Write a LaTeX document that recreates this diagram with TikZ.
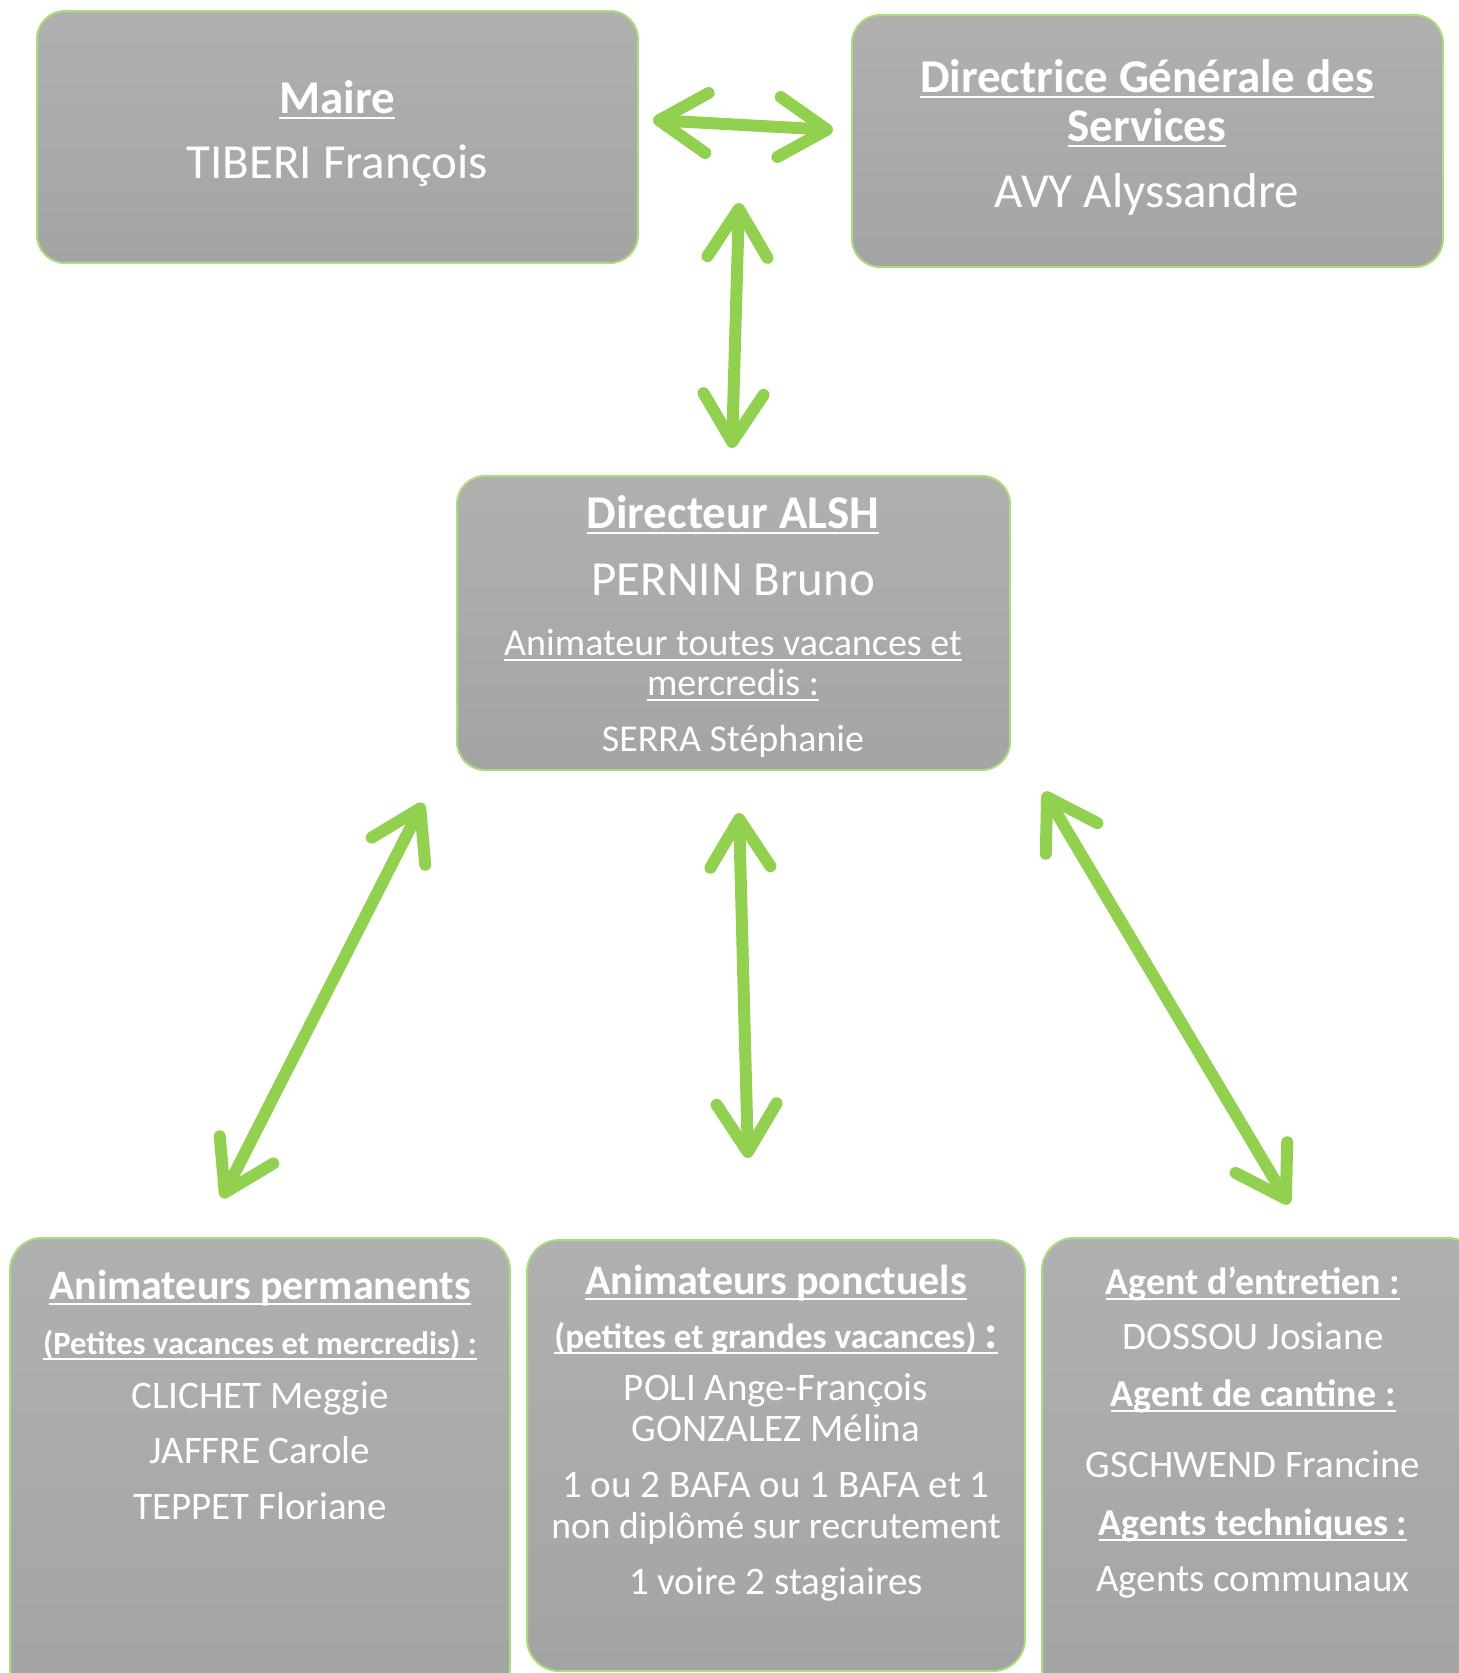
\documentclass[tikz,border=0pt]{standalone}
\usepackage{fontspec}
\setmainfont{Carlito}
\usetikzlibrary{arrows.meta}

\definecolor{linkgreen}{HTML}{92D050}
\definecolor{cardtop}{HTML}{B0B0B0}
\definecolor{cardbottom}{HTML}{A4A4A4}

\newsavebox{\ulbox}
\newcommand{\ulab}[1]{\sbox{\ulbox}{#1}\rlap{\rule[-2.6pt]{\wd\ulbox}{1.2pt}}\usebox{\ulbox}}

\tikzset{
  card/.style={rounded corners=14pt, draw=linkgreen!75!white, line width=1pt,
    top color=cardtop, bottom color=cardbottom},
  link/.style={draw=linkgreen, line width=6pt,
    {Straight Barb[length=24pt,width=30pt,round]}-{Straight Barb[length=24pt,width=30pt,round]}},
  txt/.style={text=white, anchor=mid, inner sep=0pt, yshift=-5.5pt},
  bigperson/.style={txt, font=\fontsize{24.5}{28}\selectfont},
  person/.style={txt, font=\fontsize{19.5}{23}\selectfont},
  toptitle/.style={txt, font=\fontsize{23.5}{28}\selectfont\bfseries},
  cardtitle/.style={txt, font=\fontsize{21}{25}\selectfont\bfseries},
  subtitle/.style={txt, font=\fontsize{16.3}{19}\selectfont\bfseries},
  role/.style={txt, font=\fontsize{19}{23}\selectfont\bfseries}
}

\begin{document}
\begin{tikzpicture}[x=0.5pt, y=-0.5pt]
  \useasboundingbox (0,0) rectangle (1459,1673);

  % ====== BOXES ======
  \node[card, minimum width=300.5pt, minimum height=126pt] (maire) at (337.5,137) {};
  \node[card, minimum width=295.5pt, minimum height=126pt] (dgs) at (1147.5,141) {};
  \node[card, minimum width=276.5pt, minimum height=147pt] (alsh) at (733.5,623) {};
  \node[card, rounded corners=16pt, minimum width=250pt, minimum height=231pt] (perm) at (260,1469) {};
  \node[card, rounded corners=16pt, minimum width=249pt, minimum height=215.5pt] (ponct) at (776,1455.5) {};
  \node[card, rounded corners=16pt, minimum width=219pt, minimum height=231pt] (agents) at (1261,1469) {};

  % ====== TEXTS ======
  % Maire
  \node[toptitle] (maire-t) at (337,98) {\ulab{Maire}};
  \node[bigperson] (maire-n) at (337,163) {TIBERI François};

  % Directrice
  \node[toptitle] (dgs-t1) at (1147,77) {\ulab{Directrice Générale des}};
  \node[toptitle] (dgs-t2) at (1147,126) {\ulab{Services}};
  \node[bigperson] (dgs-n) at (1147,192) {AVY Alyssandre};

  % Directeur ALSH
  \node[toptitle] (alsh-t) at (733,513) {\ulab{Directeur ALSH}};
  \node[bigperson] (alsh-n) at (733,580) {PERNIN Bruno};
  \node[person, font=\fontsize{19}{23}\selectfont] (alsh-r1) at (733,640) {\ulab{Animateur toutes vacances et}};
  \node[person, font=\fontsize{19}{23}\selectfont] (alsh-r2) at (733,680) {\ulab{mercredis :}};
  \node[person, font=\fontsize{19}{23}\selectfont] (alsh-a) at (733,736) {SERRA Stéphanie};

  % Animateurs permanents
  \node[cardtitle] (perm-t) at (260,1284) {\ulab{Animateurs permanents}};
  \node[subtitle] (perm-s) at (260,1339) {\ulab{(Petites vacances et mercredis) :}};
  \node[person] (perm-1) at (260,1393) {CLICHET Meggie};
  \node[person] (perm-2) at (260,1448) {JAFFRE Carole};
  \node[person] (perm-3) at (260,1504) {TEPPET Floriane};

  % Animateurs ponctuels
  \node[cardtitle] (ponct-t) at (776,1279) {\ulab{Animateurs ponctuels}};
  \node[subtitle, font=\fontsize{17.6}{20}\selectfont\bfseries] (ponct-s) at (776,1333)
    {\ulab{(petites et grandes vacances) {\fontsize{24}{26}\selectfont :}}};
  \node[person] (ponct-1) at (776,1385) {POLI Ange-François};
  \node[person] (ponct-2) at (776,1426) {GONZALEZ Mélina};
  \node[person] (ponct-3) at (776,1482) {1 ou 2 BAFA ou 1 BAFA et 1};
  \node[person, font=\fontsize{18.8}{23}\selectfont] (ponct-4) at (776,1523) {non diplômé sur recrutement};
  \node[person] (ponct-5) at (776,1579) {1 voire 2 stagiaires};

  % Agents
  \node[role] (agents-t1) at (1253,1279) {\ulab{Agent d’entretien :}};
  \node[person] (agents-1) at (1253,1334) {DOSSOU Josiane};
  \node[role] (agents-t2) at (1253,1391) {\ulab{Agent de cantine :}};
  \node[person] (agents-2) at (1253,1462) {GSCHWEND Francine};
  \node[role] (agents-t3) at (1253,1520) {\ulab{Agents techniques :}};
  \node[person] (agents-3) at (1253,1576) {Agents communaux};

  % ====== LINKS ======
  \coordinate (h-l) at (653,120);
  \coordinate (h-r) at (833,130);
  \coordinate (v-t) at (739,203);
  \coordinate (v-b) at (732,448);
  \coordinate (l-t) at (423,803);
  \coordinate (l-b) at (222,1198);
  \coordinate (m-t) at (739,813);
  \coordinate (m-b) at (748,1158);
  \coordinate (r-t) at (1044,792);
  \coordinate (r-b) at (1289,1204);

  \draw[link] (h-l) -- (h-r);
  \draw[link] (v-t) -- (v-b);
  \draw[link] (l-t) -- (l-b);
  \draw[link] (m-t) -- (m-b);
  \draw[link] (r-t) -- (r-b);

\end{tikzpicture}
\end{document}
